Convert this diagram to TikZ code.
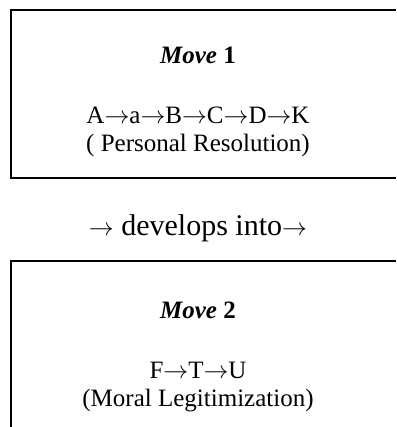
\documentclass[tikz,border=0pt]{standalone}
\usepackage{fontspec}
\setmainfont{Liberation Serif}
\usetikzlibrary{positioning}

\begin{document}
\begin{tikzpicture}[
    x=1pt, y=1pt,
    every node/.style={inner sep=0pt, anchor=base, font=\fontsize{25}{29}\selectfont},
    move label/.style={font=\fontsize{25}{29}\selectfont\bfseries},
    link label/.style={font=\fontsize{30}{34}\selectfont},
    frame/.style={line width=1.8pt},
  ]
  \useasboundingbox (0,0) rectangle (396,-427);

  % first move
  \draw[frame] (396,-10) -| (11,-178) -- (396,-178);
  \node[move label] (move1) at (198,-64)  {\textit{Move} 1};
  \node (chain1) at (198,-124) {A$\rightarrow$a$\rightarrow$B$\rightarrow$C$\rightarrow$D$\rightarrow$K};
  \node (res1)   at (198,-152) {( Personal Resolution)};

  \node[link label] (develops) at (198,-235) {$\rightarrow$ develops into$\rightarrow$};

  % second move
  \draw[frame] (396,-261) -| (11,-427);
  \node[move label] (move2) at (198,-318) {\textit{Move} 2};
  \node (chain2) at (198,-378) {F$\rightarrow$T$\rightarrow$U};
  \node (res2)   at (198,-406) {(Moral Legitimization)};

\end{tikzpicture}
\end{document}
